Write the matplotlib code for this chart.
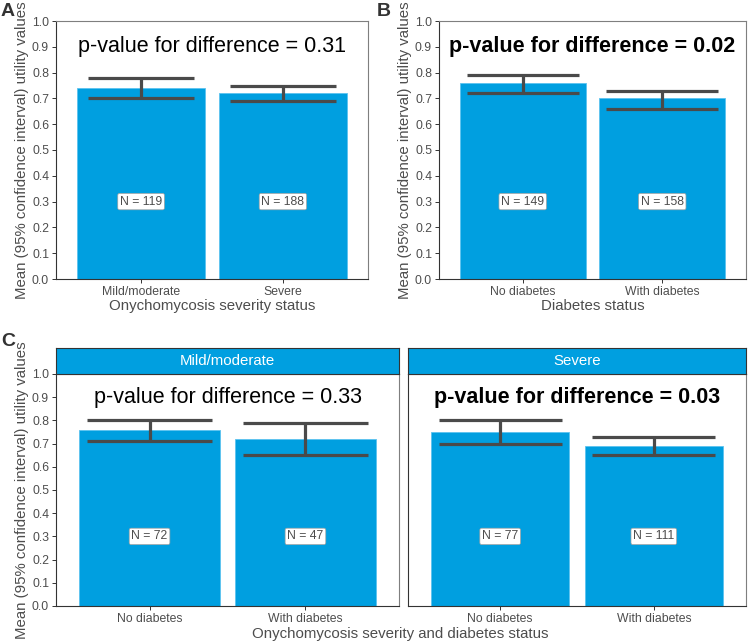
import matplotlib
matplotlib.use("agg")
import matplotlib.pyplot as plt
import numpy as np

plt.rcParams['font.family'] = ['Liberation Sans', 'DejaVu Sans']

BLUE = '#009fe0'
DARK = '#4a4a4a'
TXT = '#4d4d4d'

# panel A
a_cats = ['Mild/moderate', 'Severe']
a_mean = [0.74, 0.72]
a_lo = [0.70, 0.69]
a_hi = [0.78, 0.75]
a_n = [119, 188]

# panel B
b_cats = ['No diabetes', 'With diabetes']
b_mean = [0.76, 0.70]
b_lo = [0.72, 0.66]
b_hi = [0.79, 0.73]
b_n = [149, 158]

# panel C
c_cats = ['No diabetes', 'With diabetes']
c_facets = ['Mild/moderate', 'Severe']
c_mean = [[0.76, 0.72], [0.75, 0.69]]
c_lo = [[0.71, 0.65], [0.70, 0.65]]
c_hi = [[0.80, 0.79], [0.80, 0.73]]
c_n = [[72, 47], [77, 111]]
c_pval = ['0.33', '0.03']

W, H = 752, 644
fig = plt.figure(figsize=(W / 100, H / 100), dpi=100)


def px_axes(x0, y0, x1, y1):
    return fig.add_axes([x0 / W, 1 - y1 / H, (x1 - x0) / W, (y1 - y0) / H])


def draw_panel(ax, cats, mean, lo, hi, n, ptext, bold, errw=0.8, yticks=True):
    x = np.arange(1, len(cats) + 1)
    ax.bar(x, mean, width=0.9, color=BLUE, edgecolor='#5cc3ef', linewidth=0.6, zorder=2)
    ax.vlines(x, lo, hi, color=DARK, linewidth=2.3, zorder=3)
    ax.hlines(lo, x - errw / 2, x + errw / 2, color=DARK, linewidth=2.3, zorder=3)
    ax.hlines(hi, x - errw / 2, x + errw / 2, color=DARK, linewidth=2.3, zorder=3)
    for xi, ni in zip(x, n):
        ax.text(xi, 0.3, f'N = {ni}', ha='center', va='center', fontsize=8.8,
                color=TXT, zorder=4,
                bbox=dict(boxstyle='round,pad=0.18,rounding_size=0.15', fc='white',
                          ec='#a0a0a0', lw=0.5))
    ax.text(1.5, 0.9, ptext, ha='center', va='center', fontsize=15.5,
            fontweight='bold' if bold else 'normal', color='black')
    ax.set_xlim(0.4, 2.6)
    ax.set_ylim(0, 1.0)
    ax.set_xticks(x)
    ax.set_xticklabels(cats, fontsize=8.8, color=TXT)
    ax.set_yticks(np.arange(0, 1.01, 0.1))
    if yticks:
        ax.set_yticklabels([f'{v:.1f}' for v in np.arange(0, 1.01, 0.1)],
                           fontsize=8.8, color=TXT)
    else:
        ax.tick_params(axis='y', left=False, labelleft=False)
    ax.tick_params(axis='both', length=3, width=0.7, color='#333333', pad=2)
    for s in ax.spines.values():
        s.set_color('#7f7f7f')
        s.set_linewidth(0.8)
    ax.spines['left'].set_color('#333333')
    ax.spines['bottom'].set_color('#333333')


ylab = 'Mean (95% confidence interval) utility values'

axA = px_axes(56, 21, 368, 279)
draw_panel(axA, a_cats, a_mean, a_lo, a_hi, a_n, 'p-value for difference = 0.31', False, errw=0.75)
axA.set_xlabel('Onychomycosis severity status', fontsize=10.8, color=TXT, labelpad=1)
axA.set_ylabel(ylab, fontsize=10.8, color=TXT, labelpad=2)

axB = px_axes(439, 21, 746, 279)
draw_panel(axB, b_cats, b_mean, b_lo, b_hi, b_n, 'p-value for difference = 0.02', True)
axB.set_xlabel('Diabetes status', fontsize=10.8, color=TXT, labelpad=1)
axB.set_ylabel(ylab, fontsize=10.8, color=TXT, labelpad=2)

c_boxes = [(56, 399), (408, 746)]
for k, (x0, x1) in enumerate(c_boxes):
    ax = px_axes(x0, 374, x1, 606)
    draw_panel(ax, c_cats, c_mean[k], c_lo[k], c_hi[k], c_n[k],
               'p-value for difference = ' + c_pval[k], k == 1, yticks=(k == 0))
    if k == 0:
        ax.set_ylabel(ylab, fontsize=10.8, color=TXT, labelpad=2)
    sax = px_axes(x0, 348, x1, 374)
    sax.set_facecolor(BLUE)
    sax.set_xticks([])
    sax.set_yticks([])
    for s in sax.spines.values():
        s.set_color('#333333')
        s.set_linewidth(0.8)
    sax.text(0.5, 0.5, c_facets[k], transform=sax.transAxes, ha='center',
             va='center', fontsize=10.8, color='white')

fig.text(400 / W, 1 - 634 / H, 'Onychomycosis severity and diabetes status',
         ha='center', va='center', fontsize=10.8, color=TXT)

for lab, (px, py) in zip(['A', 'B', 'C'], [(1, 12), (377, 12), (1, 341)]):
    fig.text(px / W, 1 - py / H, lab, fontsize=14, fontweight='bold', color='#333333',
             ha='left', va='center')

fig.savefig('out.png', dpi=100)
